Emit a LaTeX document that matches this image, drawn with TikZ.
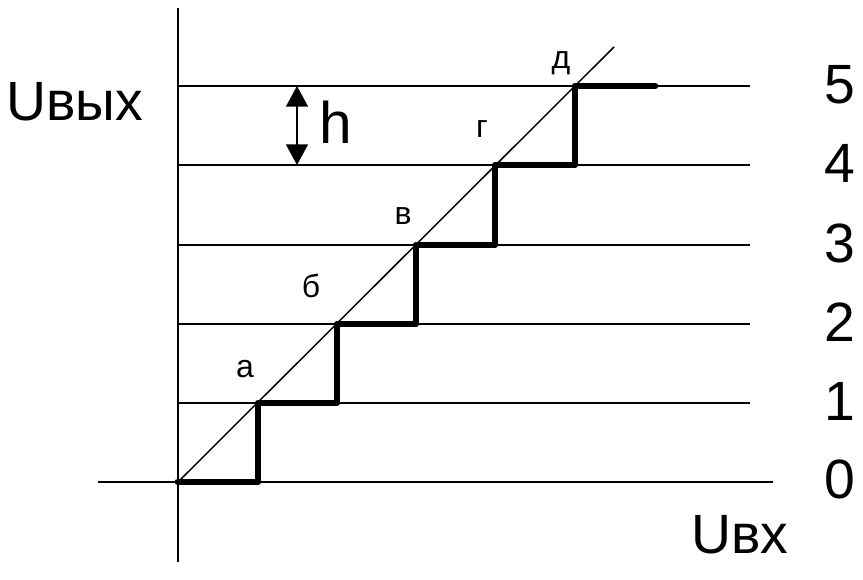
\documentclass[tikz,border=0pt]{standalone}
\usepackage{fontspec}
\setmainfont{Liberation Sans}
\usetikzlibrary{arrows.meta}
\tikzset{
  thinline/.style={line width=1.1pt},
  stairline/.style={line width=5.2pt, line cap=round, line join=round},
  biglabel/.style={anchor=base, inner sep=0pt, font=\fontsize{41.5}{48}\selectfont},
  hlabel/.style={anchor=base, inner sep=0pt, font=\fontsize{44}{50}\selectfont},
  smalllabel/.style={anchor=base, inner sep=0pt, font=\fontsize{24}{28}\selectfont},
}
\begin{document}
\begin{tikzpicture}[x=0.75pt, y=-0.75pt]
\useasboundingbox (0,0) rectangle (863,579);
% axes
\coordinate (ytop) at (178,8);
\coordinate (ybot) at (178,562);
\coordinate (xl) at (98,482);
\coordinate (xr) at (773,482);
\draw[thinline] (ytop) -- (ybot);
\draw[thinline] (xl) -- (xr);
% level lines
\foreach \i/\y in {1/403,2/324,3/245,4/165,5/86}{
  \coordinate (L\i a) at (178,\y);
  \coordinate (L\i b) at (750,\y);
  \draw[thinline] (L\i a) -- (L\i b);
}
% diagonal
\coordinate (d0) at (178,482);
\coordinate (d1) at (614,47);
\draw[thinline] (d0) -- (d1);
% staircase
\draw[stairline] (178,482) -- (258,482) -- (258,403) -- (337,403) -- (337,324)
  -- (416,324) -- (416,245) -- (495,245) -- (495,165) -- (575,165) -- (575,86) -- (655,86);
% h arrow
\coordinate (ha) at (297,86);
\coordinate (hb) at (297,165);
\draw[thinline, {Triangle[width=16.5pt,length=15.5pt]}-{Triangle[width=16.5pt,length=15.5pt]}] (ha) -- (hb);
\node[hlabel] (h) at (336,143) {h};
% axis labels
\node[biglabel] (uout) at (75,120) {Uвых};
\node[biglabel] (uin) at (740,553) {Uвх};
% numbers
\node[biglabel] (n5) at (840,103) {5};
\node[biglabel] (n4) at (840,182) {4};
\node[biglabel] (n3) at (840,262) {3};
\node[biglabel] (n2) at (840,341) {2};
\node[biglabel] (n1) at (840,420) {1};
\node[biglabel] (n0) at (840,498) {0};
% step labels
\node[smalllabel] (la) at (245,377) {а};
\node[smalllabel] (lb) at (311,297) {б};
\node[smalllabel] (lv) at (403,224) {в};
\node[smalllabel] (lg) at (482,137) {г};
\node[smalllabel] (ld) at (561,68) {д};
\end{tikzpicture}
\end{document}
